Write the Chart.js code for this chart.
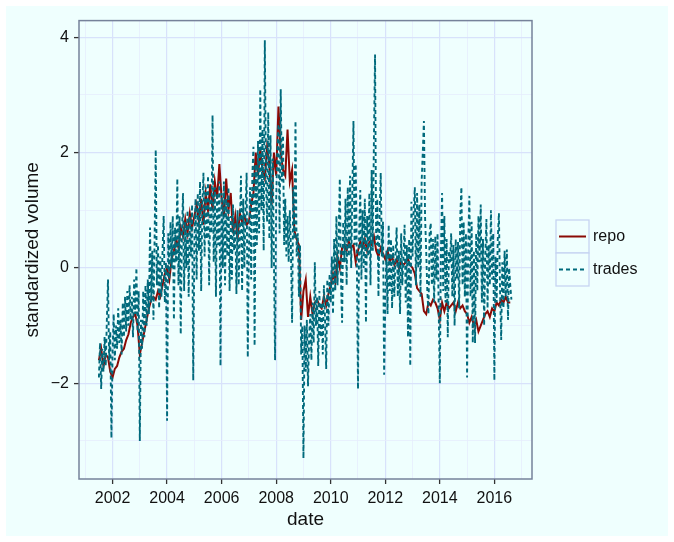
<!DOCTYPE html>
<html>
<head>
<meta charset="utf-8">
<script src="https://cdn.jsdelivr.net/npm/chart.js@4.4.1/dist/chart.umd.min.js"></script>
<style>
    html, body { margin: 0; padding: 0; background: #ffffff; }
    #wrap { position: absolute; left: 6px; top: 6px; width: 662px; height: 530px; background: #effffe; }
</style>
</head>
<body>
<div id="wrap"><canvas id="volumeChart" width="662" height="530"></canvas></div>
<script>
// series start in July 2001; repo is monthly, trades twice a month
const startYear = 2001.5;
const repoPerYear = 12;
const tradesPerYear = 24;

const seriesNames = ['repo', 'trades'];
const xTickYears = [2001, 2002, 2003, 2004, 2005, 2006, 2007, 2008, 2009, 2010, 2011, 2012, 2013, 2014, 2015, 2016, 2017];
const yTickValues = [-3, -2, -1, 0, 1, 2, 3, 4];

const repoValues = [
    -1.6, -1.4, -1.7, -1.5, -1.55, -1.8,
    -1.9, -1.75, -1.7, -1.55, -1.45, -1.4, -1.25, -1.15, -0.95, -0.85, -0.8, -1.0,
    -1.5, -1.3, -1.1, -0.9, -0.7, -0.55, -0.5, -0.55, -0.4, -0.5, -0.3, -0.1,
    0.0, -0.2, 0.15, 0.3, 0.5, 0.35, 0.7, 0.55, 0.85, 0.6, 0.95, 0.7,
    0.9, 1.1, 0.8, 1.2, 0.75, 1.3, 1.0, 1.45, 1.0, 1.5, 1.2, 1.8,
    1.2, 0.9, 1.55, 1.0, 1.3, 0.6, 0.9, 0.5, 0.95, 0.8, 0.9, 0.75,
    0.8, 1.1, 1.3, 2.0, 1.6, 2.05, 1.7, 1.55, 2.1, 1.8, 1.1, 2.0,
    1.6, 2.8, 2.0, 1.7, 1.6, 2.4, 1.5, 1.7, 0.65, 0.5, 0.4, -0.9,
    -0.4, -0.2, -0.85, -0.5, -0.8, -0.6, -0.55, -0.65, -0.7, -0.5, -0.65, -0.45,
    -0.3, -0.1, -0.25, 0.2, 0.0, 0.35, 0.4, 0.3, 0.45, 0.35, 0.4, 0.1,
    0.3, 0.45, 0.35, 0.5, 0.3, 0.45, 0.4, 0.55, 0.3, 0.2, 0.35, 0.25,
    0.15, 0.3, 0.1, 0.2, 0.05, 0.15, 0.0, 0.1, 0.05, 0.1, 0.15, 0.05,
    0.0, -0.1, -0.35, -0.4, -0.45, -0.75, -0.8, -0.6, -0.65, -0.55, -0.6, -0.7,
    -0.9, -0.6, -0.75, -0.6, -0.7, -0.65, -0.6, -0.75, -0.6, -0.7, -0.65, -0.75,
    -0.8, -0.95, -0.85, -1.0, -0.9, -1.1, -1.0, -0.9, -0.8, -0.75, -0.85, -0.7,
    -0.75, -0.6, -0.65, -0.55, -0.6, -0.5, -0.6, -0.6
];

const tradesValues = [
    -1.9, -1.3, -2.1, -1.4, -1.8, -1.2, -1.7, -0.9, -0.2, -1.6, -1.1, -2.95,
    -1.5, -0.8, -1.6, -1.0, -1.4, -0.7, -1.3, -0.9, -1.5, -0.6, -1.2, -0.5, -1.1, -0.4, -1.0, -0.3, -0.9, -0.5, -1.2, -0.2, -0.8, 0.0, -1.1, -0.4,
    -3.0, -0.9, -1.4, -0.4, -1.2, -0.3, -1.0, -0.2, -0.8, 0.7, -0.6, 0.3, -0.9, 0.5, 2.05, -0.3, 0.4, -0.7, 0.2, -0.5, 0.3, 0.9, -0.6, 0.1,
    -2.65, 0.6, -0.2, 0.8, 0.0, 0.9, -0.9, 0.7, 0.1, 1.55, -0.3, 0.9, -1.15, 0.5, 1.3, -0.4, 0.8, 0.0, 1.0, -0.5, 0.9, 0.2, 1.1, -1.95,
    0.4, 1.2, -0.2, 1.3, 0.3, 1.5, -0.4, 1.1, 1.65, 0.2, 1.4, 0.5, 1.6, -0.3, 1.2, 0.6, 2.65, 0.1, 1.4, -0.5, 1.3, 0.4, 1.5, -1.7,
    1.3, 0.0, 1.5, -0.3, 1.2, 0.2, 1.4, -0.4, 0.9, -0.2, 1.1, 0.3, 0.8, -0.45, 1.0, -0.3, 0.6, 1.6, -0.4, 1.2, 0.0, 1.0, 1.65, -1.55,
    0.3, 1.4, -0.2, 1.6, 2.1, -1.35, 1.8, 0.4, 2.2, 0.6, 3.1, 1.0, 2.4, 0.3, 3.95, 1.5, 0.8, 2.7, 0.5, 2.3, 0.0, 1.9, 0.2, -1.6,
    1.2, 2.0, 2.5, 0.6, 3.1, 1.5, 2.3, 0.4, 1.2, 0.2, 0.9, 0.1, 1.0, 0.3, -0.95, 1.4, 0.5, 2.55, 0.2, 0.6, -0.5, 0.4, -1.5, -1.0,
    -3.3, -1.0, -1.8, -0.9, -2.05, -1.2, -0.8, -1.6, -0.6, -1.3, 0.1, -1.0, -0.5, -1.7, -0.4, -1.2, -0.6, -1.5, -0.3, -0.9, -1.75, -0.2, -1.0, -0.1,
    -0.6, 0.2, -0.8, 0.5, -0.4, 0.9, -0.3, 0.6, 1.55, -0.2, -0.95, 0.8, 0.1, 1.2, -0.3, 1.4, 0.2, 1.6, 0.0, 1.3, 2.55, 0.4, 1.8, 0.1,
    -2.1, 0.6, 1.35, -0.2, 1.0, 0.0, 1.2, -0.95, 0.9, 0.2, 1.3, -0.3, 1.7, 0.3, 2.2, 3.7, 0.4, 1.2, -0.5, 0.9, 1.65, 0.2, 0.8, -1.85,
    -0.6, 0.3, -0.8, 0.75, -0.4, 0.5, -0.7, 0.4, -0.5, 0.2, 0.7, -0.5, 0.3, -0.8, 0.6, -0.3, 0.2, 0.75, -0.6, 0.4, -1.2, 0.5, -1.7, 1.15,
    0.2, 1.0, 1.4, -0.3, 1.3, 0.0, 1.1, -0.5, 1.5, 2.0, 2.55, 0.9, 0.3, -0.4, -0.8, 0.6, 0.78, -0.3, 0.5, -0.6, 0.55, -0.2, 0.6, -0.7,
    -2.0, 0.3, 1.3, -0.4, 0.9, -0.6, 0.5, -1.2, 0.3, 0.1, 0.6, -0.5, 0.4, -1.0, 0.5, -0.2, 0.45, -0.7, 0.9, 1.4, -0.3, 0.8, -0.5, 0.6,
    -1.9, 0.4, 1.25, -0.5, 0.8, -1.3, 0.3, -1.3, 0.6, -0.4, 0.9, 0.1, 1.1, -0.6, 0.5, -1.0, 0.2, 0.85, -0.7, 0.4, -0.3, 1.0, -0.2, 0.6,
    -1.95, 0.2, -0.6, 0.5, 0.95, -0.4, -1.25, 0.1, -0.7, 0.3, -0.5, 0.32, -0.9, 0.0, -0.3, -0.55
];

const toPoints = (values, perYear) => values.map((v, i) => ({ x: startYear + i / perYear, y: v }));

const fontFamily = '"Liberation Sans", Arial, sans-serif';
const majorGrid = '#d8e2fb';
const minorGrid = '#e6eefc';

// panel border and ggplot-like legend keys
const panelPlugin = {
    id: 'panel',
    afterDraw: (chart) => {
        const { ctx, chartArea } = chart;
        ctx.save();
        ctx.strokeStyle = '#76829a';
        ctx.lineWidth = 1.5;
        ctx.strokeRect(chartArea.left, chartArea.top, chartArea.right - chartArea.left, chartArea.bottom - chartArea.top);

        const keyX = chartArea.right + 24;
        const keyY = 214;
        const keySize = 33;
        chart.data.datasets.forEach((ds, i) => {
            const top = keyY + i * keySize;
            ctx.fillStyle = '#effffe';
            ctx.fillRect(keyX, top, keySize, keySize);
            ctx.strokeStyle = '#c6d4f2';
            ctx.lineWidth = 1.3;
            ctx.strokeRect(keyX, top, keySize, keySize);

            ctx.beginPath();
            ctx.strokeStyle = ds.borderColor;
            ctx.lineWidth = ds.borderWidth;
            ctx.setLineDash(ds.borderDash || []);
            ctx.moveTo(keyX + 3, top + keySize / 2);
            ctx.lineTo(keyX + keySize - 3, top + keySize / 2);
            ctx.stroke();
            ctx.setLineDash([]);

            ctx.fillStyle = '#111111';
            ctx.font = '16px ' + fontFamily;
            ctx.textBaseline = 'middle';
            ctx.textAlign = 'left';
            ctx.fillText(ds.label, keyX + keySize + 4, top + keySize / 2);
        });
        ctx.restore();
    }
};

const ctx = document.getElementById('volumeChart').getContext('2d');
const volumeChart = new Chart(ctx, {
    type: 'line',
    data: {
        datasets: [{
            label: seriesNames[0],
            data: toPoints(repoValues, repoPerYear),
            borderColor: '#8b0a05',
            borderWidth: 2,
            pointRadius: 0,
            order: 1
        }, {
            label: seriesNames[1],
            data: toPoints(tradesValues, tradesPerYear),
            borderColor: '#006a7c',
            borderWidth: 1.9,
            borderDash: [4, 3],
            pointRadius: 0,
            order: 0
        }]
    },
    options: {
        responsive: false,
        animation: false,
        layout: { padding: { left: 0, top: 12, right: 136, bottom: 0 } },
        plugins: {
            legend: { display: false },
            tooltip: { enabled: false }
        },
        scales: {
            x: {
                type: 'linear',
                min: 2000.77,
                max: 2017.38,
                afterBuildTicks: axis => { axis.ticks = xTickYears.map(v => ({ value: v })); },
                afterFit: axis => { axis.height = 57; },
                border: { display: false },
                grid: {
                    color: c => (c.tick && c.tick.value % 2 === 0 ? majorGrid : minorGrid),
                    lineWidth: c => (c.tick && c.tick.value % 2 === 0 ? 1.2 : 0.8),
                    tickColor: c => (c.tick && c.tick.value % 2 === 0 ? '#333333' : 'rgba(0,0,0,0)'),
                    tickLength: 5,
                    tickWidth: 1.3
                },
                ticks: {
                    autoSkip: false,
                    maxRotation: 0,
                    padding: 5,
                    color: '#111111',
                    font: { family: fontFamily, size: 16 },
                    callback: v => (v % 2 === 0 ? String(v) : '')
                },
                title: {
                    display: true,
                    text: 'date',
                    color: '#111111',
                    font: { family: fontFamily, size: 19 },
                    padding: { top: 0, bottom: 5 }
                }
            },
            y: {
                min: -3.66,
                max: 4.29,
                afterBuildTicks: axis => { axis.ticks = yTickValues.map(v => ({ value: v })); },
                afterFit: axis => { axis.width = 73; },
                border: { display: false },
                grid: {
                    color: c => (c.tick && c.tick.value % 2 === 0 ? majorGrid : minorGrid),
                    lineWidth: c => (c.tick && c.tick.value % 2 === 0 ? 1.2 : 0.8),
                    tickColor: c => (c.tick && c.tick.value % 2 === 0 ? '#333333' : 'rgba(0,0,0,0)'),
                    tickLength: 5,
                    tickWidth: 1.3
                },
                ticks: {
                    autoSkip: false,
                    padding: 5,
                    color: '#111111',
                    font: { family: fontFamily, size: 16 },
                    callback: v => (v % 2 === 0 ? String(v).replace('-', '\u2212') : '')
                },
                title: {
                    display: true,
                    text: 'standardized volume',
                    color: '#111111',
                    font: { family: fontFamily, size: 19 },
                    padding: { top: 15, bottom: 0 }
                }
            }
        }
    },
    plugins: [panelPlugin]
});
</script>
</body>
</html>
